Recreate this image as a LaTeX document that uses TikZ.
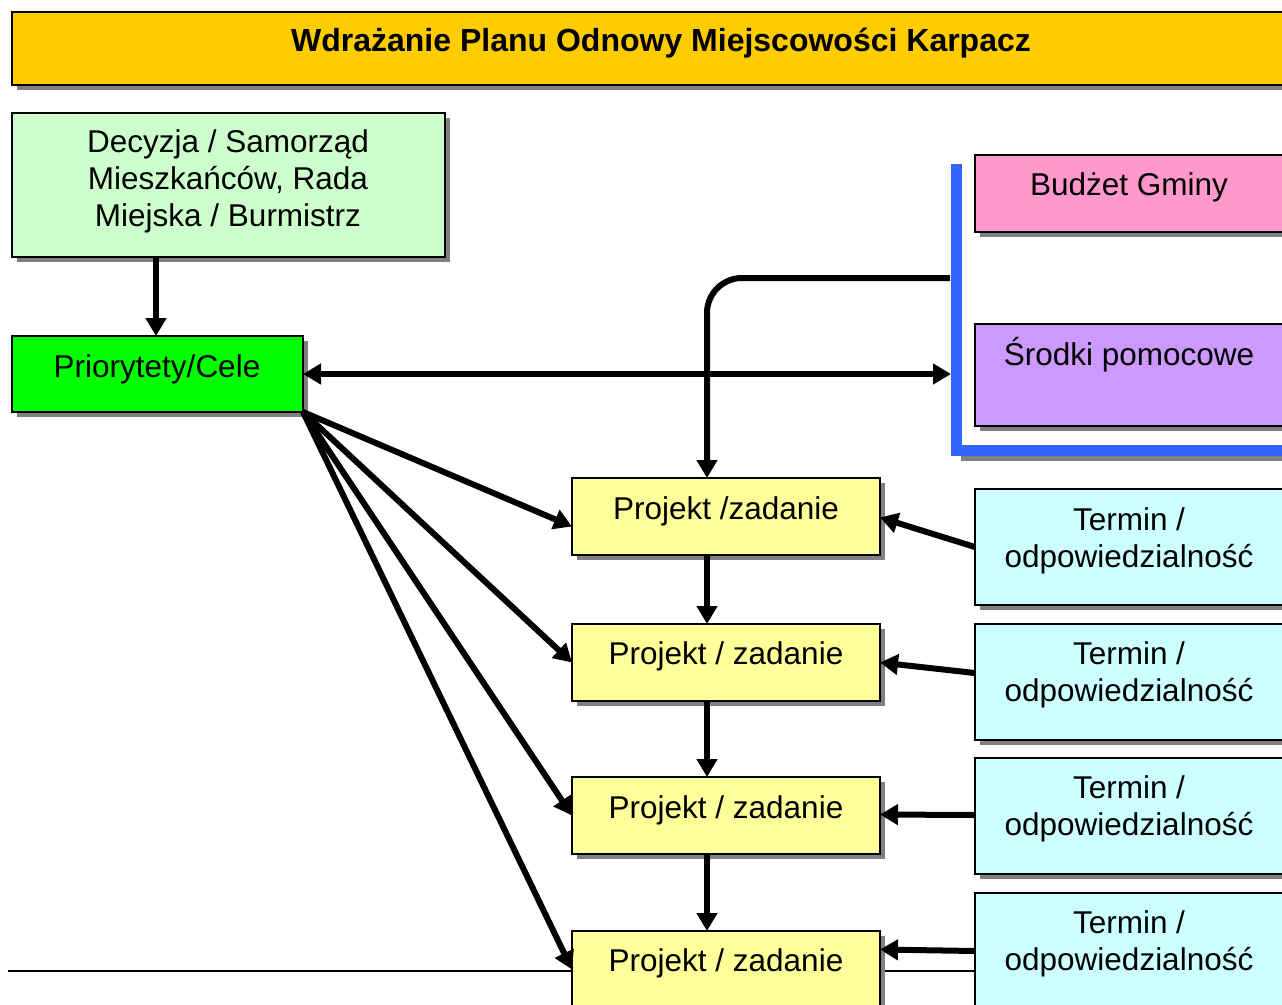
\documentclass[tikz,border=0pt]{standalone}
\usepackage{fontspec}
\setmainfont{Liberation Sans}
\usetikzlibrary{arrows.meta,shadows,calc}
\definecolor{titlebg}{RGB}{255,204,0}
\definecolor{decbg}{RGB}{204,255,204}
\definecolor{priobg}{RGB}{0,255,0}
\definecolor{budbg}{RGB}{255,153,204}
\definecolor{srobg}{RGB}{204,153,255}
\definecolor{projbg}{RGB}{255,255,153}
\definecolor{termbg}{RGB}{204,255,255}
\definecolor{brblue}{RGB}{51,102,255}
\definecolor{shad}{RGB}{128,128,128}
\tikzset{
  box/.style={draw=black, line width=1.8pt, inner sep=0pt, outer sep=0pt, anchor=north west,
    drop shadow={shadow xshift=5pt, shadow yshift=-5pt, fill=shad, opacity=1}},
  projbox/.style={box, fill=projbg, minimum width=308pt, minimum height=77pt},
  termbox/.style={box, fill=termbg, minimum width=320pt, minimum height=116pt},
  txt/.style={font=\fontsize{31.5}{37}\selectfont, align=center, anchor=base, inner sep=0pt},
  conn/.style={line width=6pt, -{Triangle[length=18pt,width=20pt]}},
}
\begin{document}
\begin{tikzpicture}[x=1pt,y=-1pt]
\clip (0,0) rectangle (1282,1004);
\fill[white] (0,0) rectangle (1282,1004);
% thin bottom line behind boxes
\draw[line width=1.8pt] (8,971) -- (1000,971);
% title
\node[box, fill=titlebg, minimum width=1300pt, minimum height=73pt] (title) at (12,12) {};
\node[txt, font=\fontsize{32}{38}\selectfont\bfseries] (titletxt) at (661,51) {Wdrażanie Planu Odnowy Miejscowości Karpacz};
% decision
\node[box, fill=decbg, minimum width=433pt, minimum height=144pt] (dec) at (12,113) {};
\node[txt] (dectxt) at (228,226) {Decyzja / Samorząd\\Mieszkańców, Rada\\Miejska / Burmistrz};
% priorities
\node[box, fill=priobg, minimum width=291pt, minimum height=76pt] (prio) at (12,336) {};
\node[txt] (priotxt) at (157,377) {Priorytety/Cele};
% budget & aid
\node[box, fill=budbg, minimum width=320pt, minimum height=77pt] (bud) at (975,155) {};
\node[txt] (budtxt) at (1129,195) {Budżet Gminy};
\node[box, fill=srobg, minimum width=320pt, minimum height=102pt] (sro) at (975,324) {};
\node[txt] (srotxt) at (1129,365) {Środki pomocowe};
% blue bracket
\draw[shad, line width=11pt] (961,455) -- (1300,455);
\draw[brblue, line width=11pt, line join=miter] (956,164) -- (956,450) -- (1300,450);
\coordinate (brA) at (950,278);
\coordinate (brB) at (951,374);
% projects
\node[projbox] (p1) at (572,478) {};
\node[txt] (p1txt) at (726,519) {Projekt /zadanie};
\node[projbox] (p2) at (572,624) {};
\node[txt] (p2txt) at (726,664) {Projekt / zadanie};
\node[projbox] (p3) at (572,777) {};
\node[txt] (p3txt) at (726,818) {Projekt / zadanie};
\node[projbox] (p4) at (572,931) {};
\node[txt] (p4txt) at (726,971) {Projekt / zadanie};
% terms
\node[termbox] (t1) at (975,489) {};
\node[txt] (t1txt) at (1129,567) {Termin /\\odpowiedzialność};
\node[termbox] (t2) at (975,624) {};
\node[txt] (t2txt) at (1129,701) {Termin /\\odpowiedzialność};
\node[termbox] (t3) at (975,758) {};
\node[txt] (t3txt) at (1129,835) {Termin /\\odpowiedzialność};
\node[termbox] (t4) at (975,893) {};
\node[txt] (t4txt) at (1129,970) {Termin /\\odpowiedzialność};
% connectors
\draw[conn] ([xshift=144pt]dec.south west) -- ([xshift=144pt]prio.north west);
\draw[conn, {Triangle[length=18pt,width=20pt]}-{Triangle[length=18pt,width=20pt]}] (prio.east) -- (brB);
\draw[conn, rounded corners=35pt] (brA) -| ([xshift=135pt]p1.north west);
\draw[conn] (prio.south east) -- ($(p1.west)+(0,10)$);
\draw[conn] (prio.south east) -- (p2.west);
\draw[conn] (prio.south east) -- (p3.west);
\draw[conn] (prio.south east) -- (p4.west);
\draw[conn] ([xshift=135pt]p1.south west) -- ([xshift=135pt]p2.north west);
\draw[conn] ([xshift=135pt]p2.south west) -- ([xshift=135pt]p3.north west);
\draw[conn] ([xshift=135pt]p3.south west) -- ([xshift=135pt]p4.north west);
\draw[conn] (t1.west) -- ($(p1.east)+(0,1)$);
\draw[conn] ($(t2.west)+(0,-9)$) -- (p2.east);
\draw[conn] ($(t3.west)+(0,-1)$) -- ($(p3.east)+(0,-1)$);
\draw[conn] (t4.west) -- ($(p4.east)+(0,-20)$);
\end{tikzpicture}
\end{document}
